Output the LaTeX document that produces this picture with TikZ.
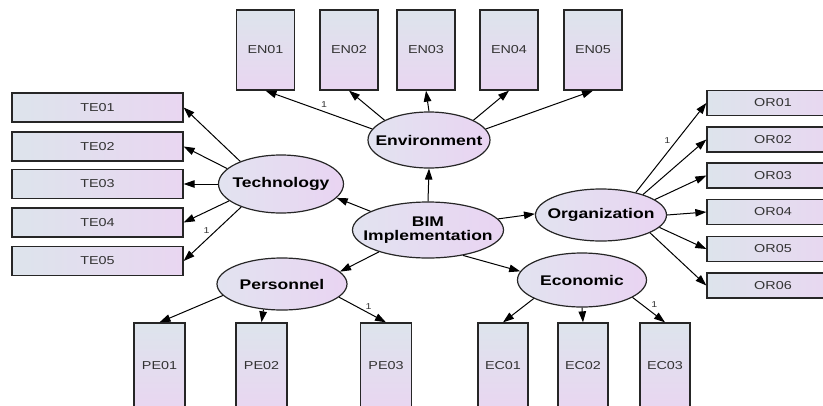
\documentclass[tikz,border=0pt]{standalone}
\usepackage{fontspec}
\setmainfont{Liberation Sans}[FakeStretch=1.25]
\usetikzlibrary{shapes.geometric,arrows.meta}

\definecolor{boxblue}{RGB}{221,228,236}
\definecolor{boxlilac}{RGB}{233,214,241}
\definecolor{ovalblue}{RGB}{226,227,240}
\definecolor{ovallilac}{RGB}{233,212,242}

\tikzset{
  latent/.style={ellipse, draw=black!85, line width=1.2pt, inner xsep=-12pt, inner ysep=0pt,
    left color=ovalblue, right color=ovallilac, align=center,
    font=\fontsize{14}{13.5}\selectfont\bfseries},
  item/.style={rectangle, draw=black!85, line width=1.3pt, inner sep=0pt,
    text=black!80, font=\fontsize{11.5}{12}\selectfont},
  itemh/.style={item, left color=boxblue, right color=boxlilac},
  itemv/.style={item, top color=boxblue, bottom color=boxlilac},
  conn/.style={-{Triangle[length=11pt,width=7.5pt]}, line width=1pt},
  one/.style={font=\fontsize{8.5}{8.5}\selectfont, inner sep=1pt, text=black!80},
}

\begin{document}
\begin{tikzpicture}[x=1pt,y=-1pt]
  \useasboundingbox (0,0) rectangle (823,405);
  \clip (0,0) rectangle (823,405);

  \node[latent, minimum width=151pt, minimum height=56pt] (bim) at (428,230) {BIM\\Implementation};
  \node[latent, minimum width=122pt, minimum height=56pt] (env) at (429,140) {Environment};
  \node[latent, minimum width=125pt, minimum height=58pt] (tech) at (281,184) {Technology};
  \node[latent, minimum width=131pt, minimum height=52pt] (org) at (601,215) {Organization};
  \node[latent, minimum width=130pt, minimum height=52pt] (pers) at (282,284) {Personnel};
  \node[latent, minimum width=129pt, minimum height=54pt] (econ) at (582,280) {Economic};

  % indicators
  \foreach \i/\x in {1/265.5,2/349,3/426,4/509,5/593}
    \node[itemv, minimum width=58pt, minimum height=80pt] (en\i) at (\x,50) {EN0\i};
  \foreach \i/\y in {1/107.5,2/146.5,3/184,4/222.5,5/261}
    \node[itemh, minimum width=171pt, minimum height=29pt] (te\i) at (97.5,\y) {TE0\i};
  \foreach \i/\y in {1/103,2/139.5,3/175.5,4/212,5/249,6/285.5}
    \node[itemh, minimum width=132pt, minimum height=25pt] (or\i) at (773,\y) {OR0\i};
  \foreach \i/\x in {1/159.5,2/261.5,3/386}
    \node[itemv, minimum width=51pt, minimum height=86pt] (pe\i) at (\x,366) {PE0\i};
  \foreach \i/\x in {1/503,2/583,3/665}
    \node[itemv, minimum width=50pt, minimum height=86pt] (ec\i) at (\x,366) {EC0\i};

  % structural paths
  \draw[conn] (bim.north) -- (env.south);
  \draw[conn] (bim.162) -- (tech.-14);
  \draw[conn] (bim.9) -- (org.179);
  \draw[conn] (bim.204) -- (pers.12);
  \draw[conn] (bim.-36) -- (econ.172);

  % loadings
  \draw[conn] (env.169) -- node[one, pos=.45, above=3pt] {1} (en1.south);
  \foreach \i/\a in {2/156,3/90,4/24,5/11}
    \draw[conn] (env.\a) -- (en\i.south);
  \foreach \i/\a in {1/151,2/164,3/180,4/198}
    \draw[conn] (tech.\a) -- (te\i.east);
  \draw[conn] (tech.210) -- node[one, pos=.6, above=4pt] {1} (te5.east);
  \draw[conn] (org.33) -- node[one, pos=.58, left=5pt] {1} (or1.west);
  \foreach \i/\a in {2/26,3/16,4/0,5/-12,6/-20}
    \draw[conn] (org.\a) -- (or\i.west);
  \foreach \i/\a in {1/191,2/234}
    \draw[conn] (pers.\a) -- (pe\i.north);
  \draw[conn] (pers.-13) -- node[one, pos=.63, above=2pt] {1} (pe3.north);
  \foreach \i/\a in {1/201,2/270}
    \draw[conn] (econ.\a) -- (ec\i.north);
  \draw[conn] (econ.-19) -- node[one, pos=.5, above right=1pt] {1} (ec3.north);
\end{tikzpicture}
\end{document}
